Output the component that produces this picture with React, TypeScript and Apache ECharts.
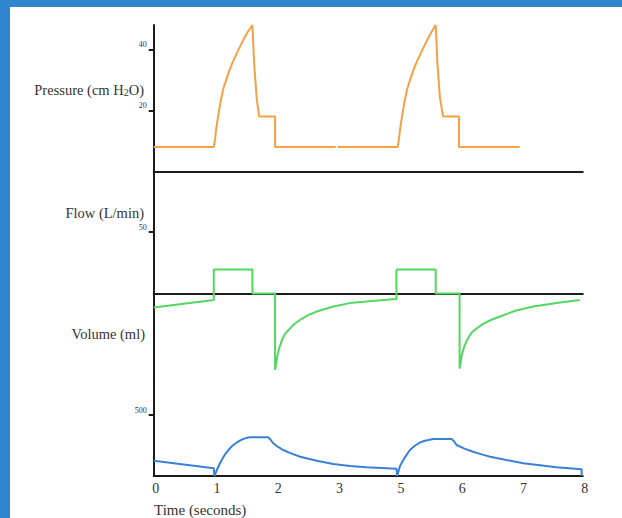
import React, { useEffect, useRef } from "react";
import * as echarts from "echarts";

// x positions are in tick-slot units (the axis labels skip "4", as in the original)
const timeLabels = ["0", "1", "2", "3", "5", "6", "7", "8"];

const pressureTime = [0, 0.98, 1.0, 1.02, 1.054, 1.09, 1.135, 1.19, 1.245, 1.3, 1.354, 1.41, 1.46, 1.53, 1.61, 1.64, 1.68, 1.72, 1.98, 1.98, 2.97, 2.985, 3.0, 3.98, 4.0, 4.02, 4.054, 4.09, 4.135, 4.19, 4.245, 4.3, 4.354, 4.41, 4.46, 4.53, 4.6, 4.63, 4.67, 4.72, 4.98, 4.98, 5.97];
const pressureValue = [8, 8, 10.5, 14, 18.4, 22.8, 27, 30.5, 33.7, 36.3, 38.6, 41, 43, 45.6, 48, 35, 24, 18, 18, 8, 8, null, 8, 8, 10.5, 14, 18.4, 22.8, 27, 30.5, 33.7, 36.3, 38.6, 41, 43, 45.6, 48, 35, 24, 18, 18, 8, 8];

const flowTime = [0, 0.98, 0.98, 1.61, 1.61, 1.98, 1.98, 2.0, 2.02, 2.05, 2.09, 2.14, 2.2, 2.29, 2.39, 2.52, 2.66, 2.93, 3.2, 3.47, 3.7, 3.96, 3.96, 4.6, 4.6, 4.99, 4.99, 5.01, 5.03, 5.06, 5.1, 5.15, 5.2, 5.29, 5.38, 5.5, 5.65, 5.9, 6.19, 6.6, 6.95];
const flowValue = [-11.4, -5.2, 19.5, 19.5, 0, 0, -62, -56, -50, -44, -38, -33, -29.5, -25, -21.3, -17.5, -14.6, -10.5, -7.8, -6.5, -5.5, -4.5, 19.5, 19.5, 0, 0, -61, -55, -49, -44, -39, -34.5, -31, -27.5, -24.5, -21.5, -18.7, -14, -10.5, -7.5, -5.3];

const volumeTime = [0, 0.98, 0.99, 1.03, 1.07, 1.11, 1.16, 1.22, 1.28, 1.35, 1.42, 1.49, 1.57, 1.87, 1.91, 1.95, 2.03, 2.11, 2.25, 2.39, 2.66, 2.93, 3.2, 3.47, 3.96, 3.97, 4.02, 4.1, 4.18, 4.26, 4.34, 4.41, 4.48, 4.56, 4.86, 4.9, 4.94, 5.07, 5.21, 5.35, 5.49, 6.03, 6.57, 6.98, 6.98];
const volumeValue = [125, 63, 0, 49, 92, 131, 175, 213, 246, 273, 294, 309, 317, 317, 295, 268, 238, 213, 183, 158, 125, 98, 82, 71, 60, 0, 85, 155, 213, 248, 273, 287, 295, 303, 303, 285, 254, 224, 199, 177, 158, 104, 71, 55, 0];

const pressureTicks = [20, 40];
const flowTicks = [50];
const volumeTicks = [500];

const zip = (t: number[], v: (number | null)[]) =>
  t.map((x, i) => [x, v[i] === null ? "-" : v[i]]);

const SERIF = "'Liberation Serif', 'DejaVu Serif', serif";
const AXIS_COLOR = "#1c1c1c";

export default function App() {
  const ref = useRef<HTMLDivElement>(null);

  useEffect(() => {
    if (!ref.current) return;
    const chart = echarts.init(ref.current, null, { renderer: "svg" });

    const left = 153.7;
    const right = 39.2;
    const grids = [
      { left, right, top: 25, height: 146.3 },
      { left, right, top: 170.3, height: 246.4 },
      { left, right, top: 378.4, height: 97.6 },
    ].map((g) => ({ ...g, containLabel: false, outerBoundsMode: "none" }));

    const xAxis = [0, 1, 2].map((i) => ({
      type: "value",
      gridIndex: i,
      min: 0,
      max: 7,
      interval: 1,
      splitLine: { show: false },
      axisTick: { show: false },
      axisLine: { show: true, onZero: true, lineStyle: { color: AXIS_COLOR, width: 2 } },
      axisLabel:
        i === 2
          ? {
              show: true,
              margin: 5,
              fontFamily: SERIF,
              fontSize: 14,
              color: "#333",
              padding: [0, 0, 0, 4],
              formatter: (v: number) => timeLabels[Math.round(v)] ?? "",
            }
          : { show: false },
    }));

    const yAxisBase = (i: number, min: number, max: number, ticks: number[]) => ({
      type: "value",
      gridIndex: i,
      min,
      max,
      splitLine: { show: false },
      axisLine: { show: true, onZero: false, lineStyle: { color: AXIS_COLOR, width: 2 } },
      axisTick: {
        show: true,
        length: 5,
        customValues: ticks,
        lineStyle: { color: AXIS_COLOR, width: 2 },
      },
      axisLabel: {
        show: true,
        customValues: ticks,
        margin: 7,
        fontFamily: SERIF,
        fontSize: 8,
        color: "#333",
        verticalAlign: "bottom",
        lineHeight: 9,
      },
    });

    const yAxis = [
      yAxisBase(0, 0, 48, pressureTicks),
      yAxisBase(1, -100, 100, flowTicks),
      yAxisBase(2, 0, 800, volumeTicks),
    ];

    const lineSeries = (i: number, data: any[], color: string) => ({
      type: "line",
      xAxisIndex: i,
      yAxisIndex: i,
      data,
      showSymbol: false,
      symbol: "none",
      connectNulls: false,
      smooth: false,
      clip: false,
      lineStyle: { color, width: 2 },
      z: 3,
    });

    const option = {
      animation: false,
      backgroundColor: "#ffffff",
      grid: grids,
      xAxis,
      yAxis,
      series: [
        lineSeries(0, zip(pressureTime, pressureValue), "#f5a047"),
        lineSeries(1, zip(flowTime, flowValue), "#52d860"),
        lineSeries(2, zip(volumeTime, volumeValue), "#3a80d5"),
      ],
      graphic: [
        { type: "rect", left: 0, top: 0, shape: { width: 10, height: 518 }, style: { fill: "#2f86cc" }, z: 100 },
        { type: "rect", left: 0, top: 0, shape: { width: 622, height: 7 }, style: { fill: "#2f86cc" }, z: 100 },
        {
          type: "text",
          x: 144,
          y: 90,
          style: {
            text: "{a|Pressure (cm H}{s|2}{a|O)}",
            align: "right",
            verticalAlign: "middle",
            rich: {
              a: { fontFamily: SERIF, fontSize: 14.5, fill: "#333" },
              s: { fontFamily: SERIF, fontSize: 10, fill: "#333", verticalAlign: "bottom" },
            },
          },
        },
        {
          type: "text",
          x: 144,
          y: 213,
          style: { text: "Flow (L/min)", align: "right", verticalAlign: "middle", fontFamily: SERIF, fontSize: 14.5, fill: "#333" },
        },
        {
          type: "text",
          x: 145,
          y: 334,
          style: { text: "Volume (ml)", align: "right", verticalAlign: "middle", fontFamily: SERIF, fontSize: 14.5, fill: "#333" },
        },
        {
          type: "text",
          x: 154,
          y: 510,
          style: { text: "Time (seconds)", align: "left", verticalAlign: "middle", fontFamily: SERIF, fontSize: 15, fill: "#333" },
        },
      ],
    };

    chart.setOption(option as any);
    return () => chart.dispose();
  }, []);

  return (
    <div
      ref={ref}
      style={{ position: "fixed", left: 0, top: 0, width: 622, height: 518, background: "#fff" }}
    />
  );
}
